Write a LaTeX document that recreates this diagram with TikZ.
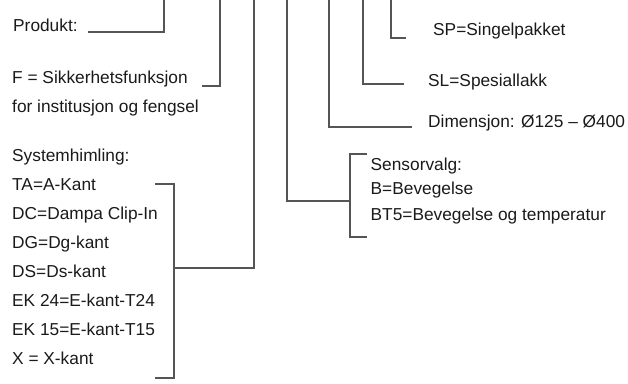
\documentclass[tikz,border=0pt]{standalone}
\usepackage{fontspec}
\setmainfont{Liberation Sans}
\usepackage{xcolor}
\definecolor{leadgray}{HTML}{555555}
\definecolor{txt}{HTML}{1A1A1A}

\begin{document}
\begin{tikzpicture}[x=1pt, y=-1pt,
        lbl/.style={anchor=base west, inner sep=0pt, text=txt, font=\fontsize{17.3}{20}\selectfont},
        lead/.style={draw=leadgray, line width=1.1pt}]
    \useasboundingbox (0,0) rectangle (628,383);

    % left column
    \node[lbl] (prod) at (13, 31.5) {Produkt:};
    \node[lbl] (sik1) at (12, 83) {F = Sikkerhetsfunksjon};
    \node[lbl] (sik2) at (12, 112) {for institusjon og fengsel};
    \node[lbl] (sys) at (12, 161) {Systemhimling:};
    \foreach \t [count=\i from 0] in {TA=A-Kant, DC=Dampa Clip-In, DG=Dg-kant, DS=Ds-kant, EK 24=E-kant-T24, EK 15=E-kant-T15, X = X-kant}
        \node[lbl] (sys\i) at (12, 190.7+28.9*\i) {\t};

    % right column
    \node[lbl] (sp) at (433, 35) {SP=Singelpakket};
    \node[lbl] (sl) at (428, 86) {SL=Spesiallakk};
    \node[lbl] (dim) at (428, 127) {Dimensjon: Ø125 – Ø400};
    \node[lbl] (sens) at (370.5, 170) {Sensorvalg:};
    \node[lbl] (sens1) at (370.5, 194.5) {B=Bevegelse};
    \node[lbl] (sens2) at (370.5, 220) {BT5=Bevegelse og temperatur};

    % free ends at the top
    \foreach \n/\x in {tprod/164, tsik/220, tsys/254, tsens/287, tdim/329, tsl/363, tsp/391}
        \coordinate (\n) at (\x, 0);
    \coordinate (eprod) at (88, 32);
    \coordinate (esik) at (202, 86);
    \coordinate (esys) at (174, 268);
    \coordinate (esens) at (350, 201);
    \coordinate (edim) at (412, 127);
    \coordinate (esl) at (404, 84);
    \coordinate (esp) at (406, 38);

    \draw[lead] (tprod) |- (eprod);
    \draw[lead] (tsik) |- (esik);
    \draw[lead] (tsys) |- (esys);
    \draw[lead] (tsens) |- (esens);
    \draw[lead] (tdim) |- (edim);
    \draw[lead] (tsl) |- (esl);
    \draw[lead] (tsp) |- (esp);

    % brackets
    \draw[lead] (155, 184) -| (174, 378) -- (155, 378);
    \draw[lead] (367, 154) -| (350, 237) -- (367, 237);
\end{tikzpicture}
\end{document}
